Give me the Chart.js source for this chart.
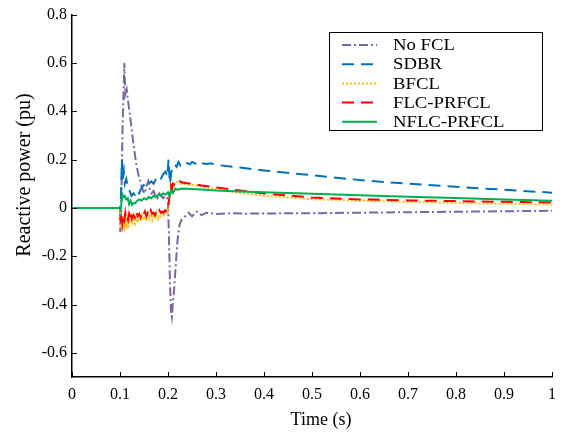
<!DOCTYPE html>
<html>
<head>
<meta charset="utf-8">
<script src="https://cdn.jsdelivr.net/npm/chart.js@4.4.1/dist/chart.umd.min.js"></script>
<style>
html,body{margin:0;padding:0;background:#fff;}
canvas{display:block;}
</style>
</head>
<body>
<canvas id="c" width="564" height="432"></canvas>
<script>
// ---- data (time in s, reactive power in pu) ----
const seriesNames = ['No FCL', 'SDBR', 'BFCL', 'FLC-PRFCL', 'NFLC-PRFCL'];

const tNoFCL = [0, 0.1, 0.1005, 0.102, 0.105, 0.109, 0.111, 0.114, 0.117, 0.121, 0.124, 0.127, 0.131, 0.134, 0.138, 0.141, 0.145, 0.148, 0.152, 0.155, 0.159, 0.162, 0.166, 0.17, 0.174, 0.178, 0.182, 0.186, 0.19, 0.194, 0.198, 0.2, 0.202, 0.204, 0.206, 0.208, 0.21, 0.213, 0.216, 0.22, 0.224, 0.228, 0.233, 0.238, 0.243, 0.25, 0.26, 0.27, 0.28, 0.3, 0.33, 0.36, 0.4, 0.5, 0.6, 0.7, 0.8, 0.9, 1.0];
const qNoFCL = [0, 0, -0.1, -0.05, 0.3, 0.6, 0.47, 0.49, 0.44, 0.38, 0.33, 0.28, 0.22, 0.18, 0.14, 0.12, 0.09, 0.07, 0.06, 0.09, 0.11, 0.08, 0.06, 0.07, 0.05, 0.04, 0.06, 0.05, 0.04, 0.05, 0.04, 0.02, -0.12, -0.3, -0.42, -0.45, -0.4, -0.33, -0.24, -0.13, -0.07, -0.05, -0.04, -0.03, -0.02, -0.035, -0.015, -0.03, -0.02, -0.025, -0.022, -0.024, -0.023, -0.022, -0.02, -0.018, -0.016, -0.014, -0.012];

const tSDBR = [0, 0.1, 0.102, 0.104, 0.106, 0.108, 0.11, 0.113, 0.116, 0.12, 0.124, 0.128, 0.132, 0.136, 0.14, 0.144, 0.148, 0.152, 0.156, 0.16, 0.165, 0.17, 0.175, 0.18, 0.185, 0.19, 0.195, 0.199, 0.201, 0.204, 0.207, 0.21, 0.214, 0.218, 0.222, 0.226, 0.23, 0.235, 0.24, 0.245, 0.25, 0.255, 0.26, 0.265, 0.27, 0.28, 0.29, 0.3, 0.35, 0.4, 0.5, 0.6, 0.7, 0.8, 0.9, 1.0];
const qSDBR = [0, 0, 0.05, 0.2, 0.12, 0.15, 0.1, 0.12, 0.09, 0.07, 0.05, 0.06, 0.05, 0.07, 0.06, 0.08, 0.09, 0.1, 0.09, 0.1, 0.11, 0.1, 0.12, 0.13, 0.12, 0.14, 0.15, 0.13, 0.2, 0.1, 0.15, 0.16, 0.18, 0.17, 0.19, 0.175, 0.18, 0.19, 0.185, 0.18, 0.19, 0.185, 0.18, 0.19, 0.185, 0.182, 0.185, 0.178, 0.167, 0.155, 0.135, 0.115, 0.1, 0.087, 0.075, 0.063];

const tPRF = [0, 0.1, 0.1015, 0.103, 0.105, 0.107, 0.109, 0.111, 0.113, 0.115, 0.117, 0.119, 0.121, 0.123, 0.125, 0.128, 0.131, 0.134, 0.137, 0.14, 0.143, 0.146, 0.149, 0.152, 0.155, 0.158, 0.161, 0.164, 0.167, 0.17, 0.173, 0.176, 0.179, 0.182, 0.185, 0.188, 0.191, 0.194, 0.197, 0.2, 0.202, 0.204, 0.206, 0.208, 0.21, 0.213, 0.217, 0.22, 0.225, 0.23, 0.24, 0.25, 0.27, 0.3, 0.35, 0.4, 0.5, 0.6, 0.7, 0.8, 0.9, 1.0];
const qBFCL = [0, 0, -0.08, -0.04, -0.09, -0.05, -0.075, -0.04, -0.07, -0.05, -0.085, -0.045, -0.06, -0.04, -0.07, -0.05, -0.065, -0.035, -0.06, -0.04, -0.055, -0.03, -0.05, -0.035, -0.055, -0.03, -0.045, -0.025, -0.05, -0.03, -0.04, -0.02, -0.045, -0.03, -0.035, -0.02, -0.03, -0.015, -0.025, -0.02, 0.02, 0.05, 0.08, 0.06, 0.09, 0.1, 0.11, 0.105, 0.1, 0.1, 0.095, 0.095, 0.088, 0.078, 0.062, 0.05, 0.036, 0.03, 0.025, 0.02, 0.017, 0.014];
const qFLC = [0, 0, -0.06, -0.02, -0.065, -0.03, -0.05, -0.02, -0.045, -0.035, -0.05, -0.025, -0.04, -0.02, -0.045, -0.03, -0.04, -0.015, -0.035, -0.025, -0.04, -0.02, -0.03, -0.015, -0.035, -0.02, -0.03, -0.01, -0.025, -0.02, -0.03, -0.015, -0.025, -0.01, -0.02, -0.015, -0.02, -0.01, -0.015, -0.01, 0.03, 0.06, 0.09, 0.075, 0.1, 0.095, 0.11, 0.108, 0.11, 0.105, 0.102, 0.1, 0.093, 0.085, 0.072, 0.06, 0.043, 0.035, 0.031, 0.028, 0.025, 0.022];

const tNFLC = [0, 0.1, 0.101, 0.103, 0.105, 0.107, 0.11, 0.113, 0.116, 0.119, 0.122, 0.125, 0.128, 0.132, 0.136, 0.14, 0.145, 0.15, 0.155, 0.16, 0.165, 0.17, 0.175, 0.18, 0.185, 0.19, 0.195, 0.2, 0.203, 0.206, 0.21, 0.215, 0.22, 0.23, 0.25, 0.27, 0.3, 0.35, 0.4, 0.5, 0.6, 0.7, 0.8, 0.9, 1.0];
const qNFLC = [0, 0, -0.015, 0.02, 0.055, 0.045, 0.05, 0.035, 0.04, 0.015, 0.03, 0.012, 0.02, 0.02, 0.03, 0.035, 0.03, 0.04, 0.035, 0.045, 0.04, 0.05, 0.045, 0.055, 0.05, 0.06, 0.055, 0.065, 0.05, 0.07, 0.06, 0.08, 0.075, 0.08, 0.078, 0.076, 0.072, 0.068, 0.065, 0.058, 0.052, 0.046, 0.041, 0.035, 0.03];

const xTicks = [0, 0.1, 0.2, 0.3, 0.4, 0.5, 0.6, 0.7, 0.8, 0.9, 1];
const xTickLabels = ['0', '0.1', '0.2', '0.3', '0.4', '0.5', '0.6', '0.7', '0.8', '0.9', '1'];
const yTicks = [-0.6, -0.4, -0.2, 0, 0.2, 0.4, 0.6, 0.8];
const yTickLabels = ['-0.6', '-0.4', '-0.2', '0', '0.2', '0.4', '0.6', '0.8'];

const FONT = '"Liberation Serif", "Times New Roman", serif';

function pts(t, q) { const n = Math.min(t.length, q.length); const a = []; for (let i = 0; i < n; i++) a.push({x: t[i], y: q[i]}); return a; }

const styles = [
  {color: '#7D64A6', dash: [9, 3, 2, 3]},
  {color: '#0070C0', dash: [12, 7]},
  {color: '#FFC000', dash: [2, 2]},
  {color: '#FF0000', dash: [12, 7]},
  {color: '#00B050', dash: []}
];
const seriesData = [pts(tNoFCL, qNoFCL), pts(tSDBR, qSDBR), pts(tPRF, qBFCL), pts(tPRF, qFLC), pts(tNFLC, qNFLC)];

const datasets = seriesNames.map((name, i) => ({
  label: name,
  data: seriesData[i],
  borderColor: styles[i].color,
  borderDash: styles[i].dash,
  borderWidth: 2,
  pointRadius: 0,
  tension: 0,
  fill: false,
  order: 4 - i
}));

const extras = {
  id: 'extras',
  afterDraw(chart) {
    const ctx = chart.ctx;
    const xs = chart.scales.x, ys = chart.scales.y;
    const a = chart.chartArea;
    ctx.save();
    // inward ticks
    ctx.strokeStyle = '#000';
    ctx.lineWidth = 1;
    ctx.beginPath();
    xTicks.forEach(v => { const px = Math.round(xs.getPixelForValue(v)) + 0.5; ctx.moveTo(px, a.bottom); ctx.lineTo(px, a.bottom - 5); });
    yTicks.forEach(v => { const py = Math.round(ys.getPixelForValue(v)) + 0.5; ctx.moveTo(a.left, py); ctx.lineTo(a.left + 5, py); });
    ctx.stroke();
    // axis titles
    ctx.fillStyle = '#000';
    ctx.textAlign = 'center';
    ctx.textBaseline = 'middle';
    ctx.font = '18px ' + FONT;
    ctx.fillText('Time (s)', 321, 420);
    ctx.save();
    ctx.translate(25, 175);
    ctx.rotate(-Math.PI / 2);
    ctx.font = '20px ' + FONT;
    ctx.fillText('Reactive power (pu)', 0, 0);
    ctx.restore();
    // legend
    const bx = 329.5, by = 32.5, bw = 213, bh = 98;
    ctx.fillStyle = '#fff';
    ctx.fillRect(bx, by, bw, bh);
    ctx.strokeStyle = '#000';
    ctx.lineWidth = 1;
    ctx.setLineDash([]);
    ctx.strokeRect(bx, by, bw, bh);
    seriesNames.forEach((name, i) => {
      const yy = 45 + i * 19.2;
      ctx.strokeStyle = styles[i].color;
      ctx.lineWidth = 2;
      ctx.setLineDash(styles[i].dash);
      ctx.beginPath();
      ctx.moveTo(342, yy); ctx.lineTo(377, yy);
      ctx.stroke();
      ctx.setLineDash([]);
      ctx.save();
      ctx.translate(393, yy + 1);
      ctx.scale(1.17, 1);
      ctx.font = '16px ' + FONT;
      ctx.textAlign = 'left';
      ctx.textBaseline = 'middle';
      ctx.fillStyle = '#000';
      ctx.fillText(name, 0, 0);
      ctx.restore();
    });
    ctx.restore();
  }
};

new Chart(document.getElementById('c'), {
  type: 'line',
  data: {datasets},
  options: {
    responsive: false,
    animation: false,
    layout: {padding: {left: 0, right: 11, top: 13, bottom: 0}},
    plugins: {legend: {display: false}, tooltip: {enabled: false}},
    scales: {
      x: {
        type: 'linear', min: 0, max: 1,
        afterBuildTicks: s => { s.ticks = xTicks.map(v => ({value: v})); },
        afterFit: s => { s.height = 55; },
        ticks: {callback: (v, i) => xTickLabels[i], color: '#000', font: {family: FONT, size: 16}, padding: 8, maxRotation: 0, autoSkip: false},
        grid: {display: true, drawOnChartArea: false, drawTicks: false},
        border: {display: true, color: '#000', width: 1.5}
      },
      y: {
        type: 'linear', min: -0.7, max: 0.8,
        afterBuildTicks: s => { s.ticks = yTicks.map(v => ({value: v})); },
        afterFit: s => { s.width = 72; },
        ticks: {callback: (v, i) => yTickLabels[i], color: '#000', font: {family: FONT, size: 16}, padding: 5, autoSkip: false},
        grid: {display: true, drawOnChartArea: false, drawTicks: false},
        border: {display: true, color: '#000', width: 1.5}
      }
    }
  },
  plugins: [extras]
});
</script>
</body>
</html>
